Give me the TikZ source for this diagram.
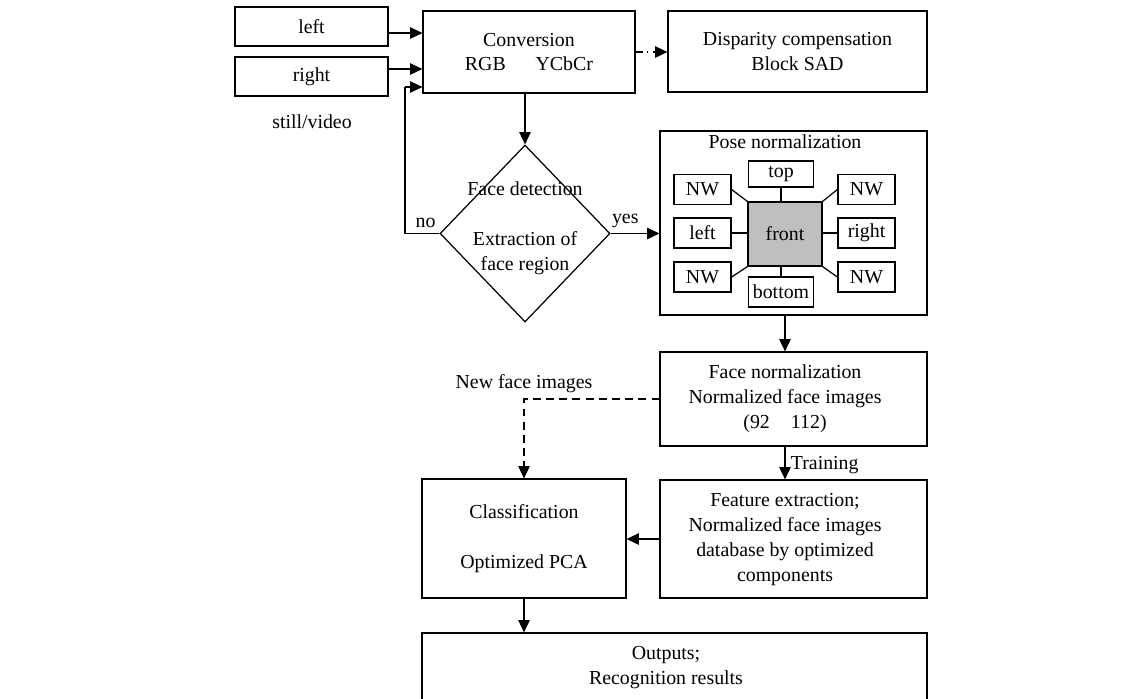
\documentclass[tikz,border=0pt]{standalone}
\usepackage{fontspec}
\setmainfont{Liberation Serif}
\usetikzlibrary{shapes.geometric,arrows.meta}

\begin{document}
\begin{tikzpicture}[x=0.02cm, y=-0.02cm, line width=0.7pt,
  >={Triangle[length=7pt,width=6.5pt]},
  every node/.style={font=\fontsize{11.3}{14.2}\selectfont, align=center, inner sep=0pt},
  box/.style={draw, rectangle},
  decision/.style={draw, diamond, minimum width=3.4cm, minimum height=3.54cm},
  lbl/.style={inner sep=3pt}]
  \useasboundingbox (0,0) rectangle (1145,698);

  \node[box, minimum width=3.06cm, minimum height=0.78cm] (left) at (311.5,26.5) {left};
  \node[box, minimum width=3.06cm, minimum height=0.78cm] (right) at (311.5,76.5) {right};
  \node (still) at (312,122) {still/video};
  \node[box, minimum width=4.24cm, minimum height=1.64cm] (conv) at (529,52) {Conversion\\RGB\hspace{17pt}YCbCr};
  \node[box, minimum width=5.18cm, minimum height=1.62cm] (disp) at (797.5,51.5) {Disparity compensation\\Block SAD};

  \node[decision] (det) at (525,233.5) {};
  \node (dettext) at (525,228) {Face detection\\[14.2pt]Extraction of\\face region};

  \node[box, minimum width=5.34cm, minimum height=3.68cm] (pose) at (793.5,223) {};
  \node (posetitle) at (785,142) {Pose normalization};
  \node[box, fill=black!25, minimum width=1.48cm, minimum height=1.28cm] (front) at (785,234) {front};
  \node[box, minimum width=1.3cm, minimum height=0.52cm] (top) at (781,174) {top};
  \node[box, minimum width=1.3cm, minimum height=0.6cm] (bottom) at (781,292) {bottom};
  \node[box, minimum width=1.14cm, minimum height=0.59cm] (nwtl) at (702.5,189.5) {NW};
  \node[box, minimum width=1.14cm, minimum height=0.6cm] (pleft) at (702.5,233) {left};
  \node[box, minimum width=1.14cm, minimum height=0.6cm] (nwbl) at (702.5,277) {NW};
  \node[box, minimum width=1.14cm, minimum height=0.59cm] (nwtr) at (866.5,189.5) {NW};
  \node[box, minimum width=1.14cm, minimum height=0.6cm] (pright) at (866.5,233) {right};
  \node[box, minimum width=1.14cm, minimum height=0.6cm] (nwbr) at (866.5,277) {NW};

  \node[box, minimum width=5.34cm, minimum height=1.88cm] (facenorm) at (793.5,399) {};
  \node (facenormtext) at (785,399) {Face normalization\\Normalized face images\\(92\hspace{12pt}112)};
  \node[box, minimum width=5.34cm, minimum height=2.36cm] (feat) at (793.5,539) {};
  \node (feattext) at (785,539.5) {Feature extraction;\\Normalized face images\\database by optimized\\components};
  \node[box, minimum width=4.08cm, minimum height=2.38cm] (cls) at (524,538.5) {Classification\\[14.2pt]Optimized PCA};
  \node[box, minimum width=10.1cm, minimum height=1.38cm] (outp) at (674.5,667.5) {};
  \node (outptext) at (666,667.5) {Outputs;\\Recognition results};

  \coordinate (fb) at (405,87);

  \draw[->] ([yshift=-0.13cm]left.east) -- ([yshift=-0.13cm]left.east -| conv.west);
  \draw[->] ([yshift=0.15cm]right.east) -- ([yshift=0.15cm]right.east -| conv.west);
  \draw[->, dash pattern=on 4pt off 2.5pt on 0.8pt off 2.5pt] (conv.east) -- (conv.east -| disp.west);
  \draw[->] (det.north |- conv.south) -- (det.north);
  \draw (det.west) -| node[lbl, above, pos=0.2] {no} (fb);
  \draw[->] (fb) -- (fb -| conv.west);
  \draw[->] (det.east) -- node[lbl, above, pos=0.3] {yes} (det.east -| pose.west);

  \draw (nwtl.east) -- (front.north west);
  \draw (nwbl.east) -- (front.south west);
  \draw (nwtr.west) -- (front.north east);
  \draw (nwbr.west) -- (front.south east);
  \draw (pleft.east) -- (pleft.east -| front.west);
  \draw (pright.west) -- (pright.west -| front.east);
  \draw (top.south) -- (top.south |- front.north);
  \draw (bottom.north) -- (bottom.north |- front.south);

  \draw[->] (pose.south -| front) -- (facenorm.north -| front);
  \draw[->, dash pattern=on 4.5pt off 3pt] (facenorm.west) -| node[lbl, above, pos=0.5] {New face images} (cls.north);
  \draw[->] (facenorm.south -| front) -- node[lbl, right, pos=0.55] {Training} (feat.north -| front);
  \draw[->] (feat.west) -- (feat.west -| cls.east);
  \draw[->] (cls.south) -- (cls.south |- outp.north);
\end{tikzpicture}
\end{document}
